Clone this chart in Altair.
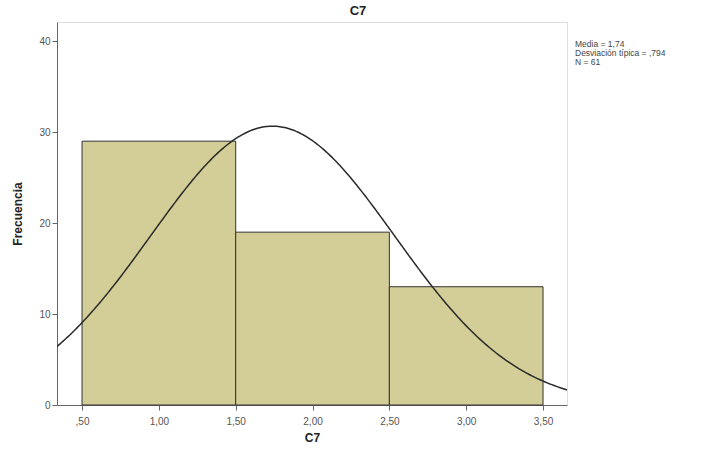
import altair as alt
import pandas as pd

bin_start = [0.5, 1.5, 2.5]
bin_end = [1.5, 2.5, 3.5]
counts = [29, 19, 13]
mean_val = 1.74
sd_val = 0.794
n_val = 61
x_ticks = [0.5, 1.0, 1.5, 2.0, 2.5, 3.0, 3.5]
x_labels = [",50", "1,00", "1,50", "2,00", "2,50", "3,00", "3,50"]
y_ticks = [0, 10, 20, 30, 40]
stats_lines = ["Media = 1,74", "Desviación típica = ,794", "N = 61"]

x_dom = [0.337, 3.656]
y_dom = [0, 42.1]
FONT = "Liberation Sans"

bars_df = pd.DataFrame({"start": bin_start, "end": bin_end, "count": counts})

label_expr = "{" + ",".join(f"'{t}':'{l}'" for t, l in zip(x_ticks, x_labels)) + "}"

xscale = alt.Scale(domain=x_dom, nice=False, zero=False)
yscale = alt.Scale(domain=y_dom, nice=False)

xaxis = alt.Axis(values=x_ticks, labelExpr=f"({label_expr})[format(datum.value, '.1f')]",
                 title="C7", grid=False, labelColor="#555", labelFontSize=10,
                 titleFontSize=12, titleFontWeight="bold", titleColor="#222",
                 domainColor="#666", tickColor="#666", tickSize=5, labelPadding=6, titlePadding=6)
yaxis = alt.Axis(values=y_ticks, title="Frecuencia", grid=False, labelColor="#555",
                 labelFontSize=10, titleFontSize=12, titleFontWeight="bold", titleColor="#222",
                 domainColor="#666", tickColor="#666", tickSize=5, labelPadding=2, titlePadding=14)

bars = alt.Chart(bars_df).mark_rect(fill="#D3CE97", stroke="#333", strokeWidth=1).encode(
    x=alt.X("start:Q", scale=xscale, axis=xaxis),
    x2="end:Q",
    y=alt.Y("count:Q", scale=yscale, axis=yaxis),
    y2=alt.datum(0),
)

curve = alt.Chart(alt.sequence(start=x_dom[0], stop=x_dom[1] + 0.005, step=0.01, as_="x")).transform_calculate(
    y=f"{n_val} * exp(-0.5 * pow((datum.x - {mean_val}) / {sd_val}, 2)) / ({sd_val} * sqrt(2 * PI))"
).mark_line(color="#2a2a2a", strokeWidth=1.5, clip=True).encode(
    x=alt.X("x:Q", scale=xscale),
    y=alt.Y("y:Q", scale=yscale),
)

stats = alt.Chart(pd.DataFrame({"a": [0]})).mark_text(
    align="left", baseline="top", fontSize=8.5, font=FONT, color="#444", lineHeight=9
).encode(
    x=alt.value(518), y=alt.value(18), text=alt.value(stats_lines)
)

chart = alt.layer(bars, curve, stats).properties(
    width=510, height=383,
    title=alt.TitleParams("C7", fontSize=13, font=FONT, fontWeight="bold", color="#222",
                          anchor="middle", dx=46, offset=4),
    padding={"left": 57, "top": 22, "right": 152, "bottom": 45},
    autosize=alt.AutoSizeParams(type="none"),
).configure_view(
    fill="#EFEFEF", stroke="#888", strokeWidth=1.5
).configure(font=FONT, background="white")

chart.save("out.html", embed_options={"renderer": "svg", "actions": False})
